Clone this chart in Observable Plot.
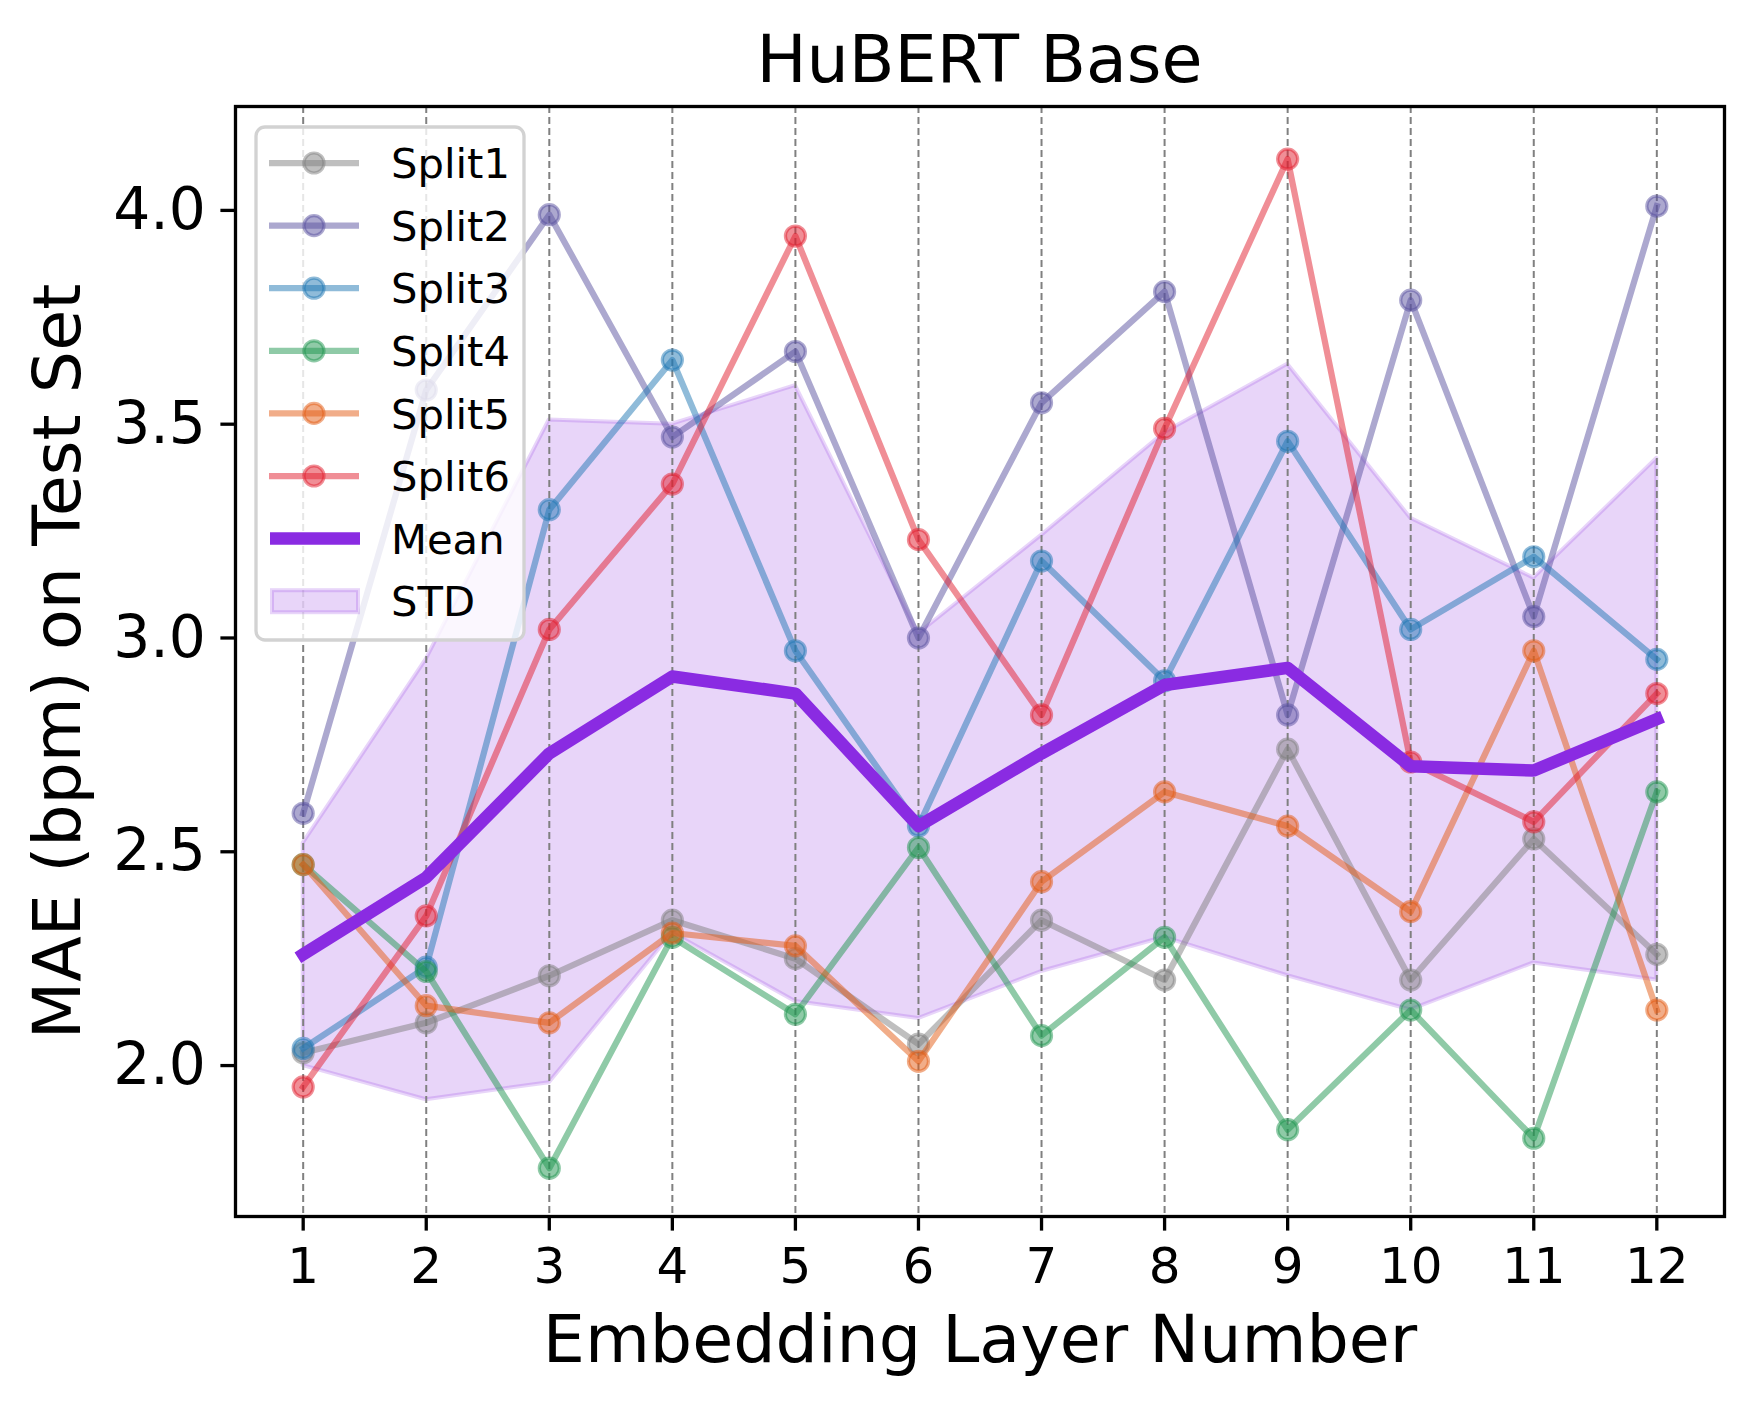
<!DOCTYPE html>
<html>
<head>
<meta charset="utf-8">
<script src="https://cdn.jsdelivr.net/npm/d3@7"></script>
<script src="https://cdn.jsdelivr.net/npm/@observablehq/plot@0.6"></script>
<style>
  html, body { margin: 0; padding: 0; background: #fff; }
  #wrap { position: relative; width: 1752px; height: 1405px; font-family: "DejaVu Sans", sans-serif; }
  #title { position: absolute; left: 235px; width: 1489px; top: 0; height: 100px; box-sizing: border-box;
           padding-top: 26.2px; line-height: 66.7px; font-size: 66.7px; text-align: center; color: #000; }
  #chart { position: absolute; left: 0; top: 100px; }
  #legend { position: absolute; left: 254px; top: 125px; }
</style>
</head>
<body>
<div id="wrap">
  <div id="title">HuBERT Base</div>
  <div id="chart"></div>
  <svg id="legend" width="274" height="520"></svg>
</div>
<script>
// ---- data ----
const layers = [1, 2, 3, 4, 5, 6, 7, 8, 9, 10, 11, 12];
const split1 = [2.03, 2.10, 2.21, 2.34, 2.25, 2.05, 2.34, 2.20, 2.74, 2.20, 2.53, 2.26];
const split2 = [2.59, 3.58, 3.99, 3.47, 3.67, 3.00, 3.55, 3.81, 2.82, 3.79, 3.05, 4.01];
const split3 = [2.04, 2.23, 3.30, 3.65, 2.97, 2.56, 3.18, 2.90, 3.46, 3.02, 3.19, 2.95];
const split4 = [2.47, 2.22, 1.76, 2.30, 2.12, 2.51, 2.07, 2.30, 1.85, 2.13, 1.83, 2.64];
const split5 = [2.47, 2.14, 2.10, 2.31, 2.28, 2.01, 2.43, 2.64, 2.56, 2.36, 2.97, 2.13];
const split6 = [1.95, 2.35, 3.02, 3.36, 3.94, 3.23, 2.82, 3.49, 4.12, 2.71, 2.57, 2.87];
const meanMAE  = [2.26, 2.44, 2.73, 2.91, 2.87, 2.56, 2.73, 2.89, 2.93, 2.70, 2.69, 2.81];
const stdLower = [2.00, 1.92, 1.96, 2.31, 2.15, 2.11, 2.22, 2.30, 2.21, 2.13, 2.24, 2.20];
const stdUpper = [2.52, 2.95, 3.51, 3.50, 3.59, 3.01, 3.24, 3.48, 3.64, 3.28, 3.14, 3.42];
const seriesNames = ["Split1", "Split2", "Split3", "Split4", "Split5", "Split6"];
const seriesColors = ["#7f7f7f", "#5a52a0", "#1f77b4", "#1f964f", "#e35b13", "#e11d2d"];
const yTicks = [2.0, 2.5, 3.0, 3.5, 4.0];
const meanColor = "#8a2be2";

const seriesValues = [split1, split2, split3, split4, split5, split6];

const splitMarks = seriesValues.flatMap((vals, k) => [
  Plot.line(layers, {x: layers, y: vals, stroke: seriesColors[k], strokeWidth: 6.25, strokeOpacity: 0.5,
                     strokeLinecap: "square", strokeLinejoin: "round"}),
  Plot.dot(layers, {x: layers, y: vals, r: 10, fill: seriesColors[k], fillOpacity: 0.5,
                    stroke: seriesColors[k], strokeOpacity: 0.5, strokeWidth: 3.2})
]);

const chart = Plot.plot({
  width: 1752,
  height: 1305,
  marginLeft: 235,
  marginRight: 28,
  marginTop: 6,
  marginBottom: 189,
  style: {fontFamily: "DejaVu Sans", fontSize: "50px", background: "white", color: "black"},
  x: {domain: [0.45, 12.55]},
  y: {domain: [1.647, 4.243]},
  marks: [
    Plot.areaY(layers, {x: layers, y1: stdLower, y2: stdUpper, fill: meanColor, fillOpacity: 0.2,
                        stroke: meanColor, strokeOpacity: 0.2, strokeWidth: 4}),
    Plot.ruleX(layers, {stroke: "#808080", strokeWidth: 2, strokeDasharray: "7,4"}),
    ...splitMarks,
    Plot.line(layers, {x: layers, y: meanMAE, stroke: meanColor, strokeWidth: 12.5,
                       strokeLinecap: "square", strokeLinejoin: "round"}),
    Plot.axisX(layers, {tickSize: 14.6, tickPadding: 16, fontSize: 50, strokeWidth: 3.3, label: null,
                        tickFormat: d => String(d)}),
    Plot.axisX([], {label: "Embedding Layer Number", labelAnchor: "center", labelOffset: 145,
                    fontSize: 66.7, labelArrow: "none", tickSize: 0}),
    Plot.axisY(yTicks, {tickSize: 14.6, tickPadding: 15, fontSize: 58.3, strokeWidth: 3.3, label: null,
                        tickFormat: d3.format(".1f")}),
    Plot.axisY([], {label: "MAE (bpm) on Test Set", labelAnchor: "center", labelOffset: 203,
                    fontSize: 66.7, labelArrow: "none", tickSize: 0}),
    Plot.frame({stroke: "black", strokeWidth: 3.3})
  ]
});
document.getElementById("chart").appendChild(chart);

// ---- legend ----
const lg = d3.select("#legend");
lg.append("rect").attr("x", 2).attr("y", 2).attr("width", 268).attr("height", 513).attr("rx", 9)
  .attr("fill", "white").attr("fill-opacity", 0.8).attr("stroke", "#d2d2d2").attr("stroke-width", 3.3);
const entryY = i => 38 + i * 62.6;
seriesNames.forEach((name, i) => {
  const y = entryY(i);
  lg.append("line").attr("x1", 15).attr("x2", 105).attr("y1", y).attr("y2", y)
    .attr("stroke", seriesColors[i]).attr("stroke-opacity", 0.5).attr("stroke-width", 6.25);
  lg.append("circle").attr("cx", 60).attr("cy", y).attr("r", 10)
    .attr("fill", seriesColors[i]).attr("fill-opacity", 0.5)
    .attr("stroke", seriesColors[i]).attr("stroke-opacity", 0.5).attr("stroke-width", 3.2);
});
lg.append("line").attr("x1", 16).attr("x2", 106).attr("y1", entryY(6)).attr("y2", entryY(6))
  .attr("stroke", meanColor).attr("stroke-width", 12.5);
lg.append("rect").attr("x", 18).attr("y", entryY(7) - 11).attr("width", 86).attr("height", 22)
  .attr("fill", meanColor).attr("fill-opacity", 0.2).attr("stroke", meanColor).attr("stroke-opacity", 0.2).attr("stroke-width", 4);
const legendLabels = [...seriesNames, "Mean", "STD"];
legendLabels.forEach((name, i) => {
  lg.append("text").attr("x", 137).attr("y", entryY(i) + 15.2)
    .attr("font-family", "DejaVu Sans").attr("font-size", 41.7).attr("fill", "black").text(name);
});
</script>
</body>
</html>
